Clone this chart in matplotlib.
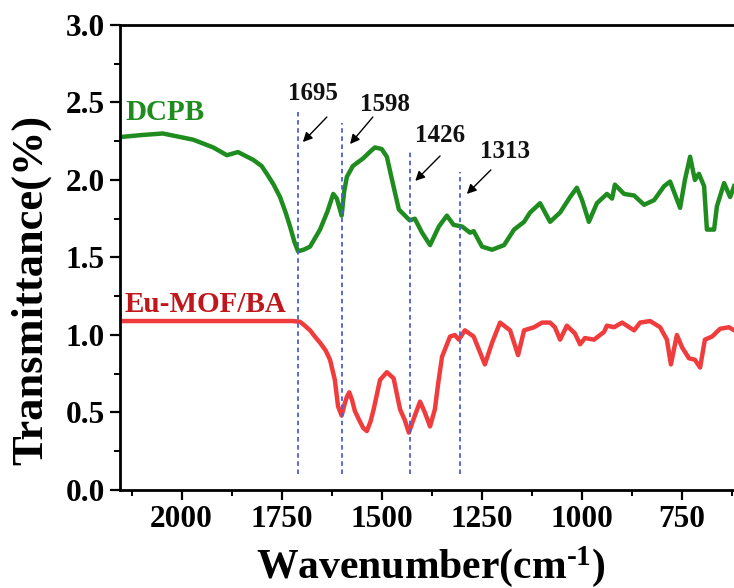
import numpy as np
import matplotlib
matplotlib.use("Agg")
import matplotlib.pyplot as plt
from matplotlib.ticker import MultipleLocator, FormatStrFormatter

# FTIR spectra
wn_dcpb = [2154, 2100, 2047, 1971, 1921, 1887, 1859, 1821, 1800, 1787, 1770, 1754,
           1740, 1729, 1718, 1709, 1695, 1679, 1654, 1635, 1621, 1612, 1600, 1594,
           1587, 1572, 1546, 1530, 1517, 1500, 1487, 1474, 1457, 1430, 1417, 1399,
           1379, 1357, 1337, 1320, 1299, 1279, 1270, 1249, 1224, 1194, 1169, 1144,
           1129, 1104, 1079, 1054, 1029, 1012, 999, 982, 962, 937, 924, 917, 894, 869,
           844, 819, 794, 779, 754, 742, 729, 717, 707, 694, 687, 669, 662, 644, 629,
           619]
t_dcpb = [2.277, 2.29, 2.30, 2.26, 2.21, 2.16, 2.18, 2.13, 2.09, 2.04, 1.97, 1.89,
          1.79, 1.70, 1.60, 1.54, 1.55, 1.57, 1.68, 1.80, 1.91, 1.88, 1.77, 1.92,
          2.02, 2.09, 2.14, 2.18, 2.21, 2.20, 2.15, 2.00, 1.81, 1.74, 1.75, 1.66,
          1.58, 1.70, 1.77, 1.71, 1.70, 1.66, 1.67, 1.57, 1.55, 1.58, 1.68, 1.73,
          1.79, 1.85, 1.73, 1.79, 1.89, 1.95, 1.87, 1.73, 1.85, 1.91, 1.88, 1.97, 1.91,
          1.90, 1.84, 1.87, 1.96, 1.99, 1.82, 2.00, 2.15, 2.00, 2.04, 1.96, 1.68, 1.68,
          1.83, 1.98, 1.89, 1.96]

wn_eu = [2154, 2000, 1850, 1722, 1704, 1692, 1679, 1667, 1654, 1640, 1629, 1617,
         1609, 1600, 1592, 1587, 1581, 1574, 1567, 1556, 1546, 1537, 1528, 1520,
         1504, 1487, 1470, 1454, 1442, 1432, 1417, 1404, 1392, 1379, 1367, 1358,
         1349, 1329, 1317, 1307, 1292, 1270, 1242, 1224, 1204, 1179, 1159, 1144,
         1119, 1099, 1079, 1067, 1054, 1037, 1017, 1004, 992, 969, 944, 937, 919,
         899, 869, 854, 829, 804, 787, 777, 762, 749, 732, 717, 704, 692, 674, 654,
         632, 619]
t_eu = [1.09, 1.09, 1.09, 1.09, 1.085, 1.06, 1.03, 0.99, 0.95, 0.90, 0.84, 0.71,
        0.54, 0.48, 0.56, 0.60, 0.63, 0.58, 0.51, 0.45, 0.40, 0.38, 0.44, 0.52,
        0.71, 0.76, 0.72, 0.52, 0.45, 0.37, 0.48, 0.57, 0.50, 0.41, 0.52, 0.70,
        0.86, 0.99, 1.00, 0.97, 1.03, 0.99, 0.81, 0.95, 1.08, 1.03, 0.87, 1.03,
        1.05, 1.08, 1.08, 1.05, 0.97, 1.06, 1.01, 0.94, 0.98, 0.97, 1.02, 1.06, 1.05,
        1.08, 1.03, 1.08, 1.09, 1.05, 0.97, 0.81, 1.00, 0.92, 0.85, 0.84, 0.79, 0.97,
        0.99, 1.04, 1.05, 1.03]

# marked bands: label, line position, line top, label pos, arrow tail, arrow head
peak_labels = ["1695", "1598", "1426", "1313"]
peak_lines = [1708, 1600, 1430, 1305]
line_tops = [2.45, 2.37, 2.18, 2.05]
label_xy = [(1673, 2.516), (1492, 2.445), (1354, 2.245), (1192, 2.142)]
arrow_tail = [(1637, 2.406), (1522, 2.406), (1354, 2.155), (1227, 2.065)]
arrow_head = [(1697, 2.245), (1579, 2.232), (1416, 1.994), (1287, 1.910)]

plt.rcParams['font.family'] = ['Liberation Serif', 'DejaVu Serif']
plt.rcParams['font.weight'] = 'bold'
plt.rcParams['mathtext.fontset'] = 'custom'
plt.rcParams['mathtext.rm'] = 'Liberation Serif:bold'
plt.rcParams['mathtext.bf'] = 'Liberation Serif:bold'
plt.rcParams['mathtext.it'] = 'Liberation Serif:bold'
plt.rcParams['mathtext.default'] = 'bf'

fig = plt.figure(figsize=(7.34, 5.88), dpi=100)
ax = fig.add_axes([0.1635, 0.1667, 0.847, 0.7908])

ax.plot(wn_dcpb, t_dcpb, color='#1e8c1e', lw=3.2, solid_joinstyle='round')
ax.plot(wn_eu, t_eu, color='#f03c3c', lw=3.2, solid_joinstyle='round')

for x, top in zip(peak_lines, line_tops):
    ax.plot([x, x], [0.10, top], color='#4a5fd6', lw=1.3, ls=(0, (2.5, 2)))

for lab, xy, tail, head in zip(peak_labels, label_xy, arrow_tail, arrow_head):
    ax.text(xy[0], xy[1], lab, ha='center', va='baseline', fontsize=18,
            fontweight='bold', color='#111111')
    ax.annotate('', xy=head, xytext=tail,
                arrowprops=dict(arrowstyle='-|>', color='black', lw=1.0,
                                mutation_scale=14, shrinkA=0, shrinkB=0))

ax.text(2140, 2.387, 'DCPB', color='#1e8c1e', fontsize=21, fontweight='bold',
        ha='left', va='baseline')
ax.text(2142, 1.148, 'Eu-MOF/BA', color='#c0161c', fontsize=21, fontweight='bold',
        ha='left', va='baseline')

ax.set_xlim(2154, 600)
ax.set_ylim(0, 3.0)
ax.xaxis.set_major_locator(MultipleLocator(250))
ax.xaxis.set_minor_locator(MultipleLocator(125))
ax.yaxis.set_major_locator(MultipleLocator(0.5))
ax.yaxis.set_minor_locator(MultipleLocator(0.25))
ax.yaxis.set_major_formatter(FormatStrFormatter('%.1f'))

ax.tick_params(which='major', direction='out', length=7, width=1.6, labelsize=22.5, pad=4)
ax.tick_params(which='minor', direction='out', length=4, width=1.4)
for lab in ax.get_xticklabels() + ax.get_yticklabels():
    lab.set_fontweight('bold')
for s in ax.spines.values():
    s.set_linewidth(2)

ax.set_xlabel('Wavenumber(cm$^{\u2010' + '1}$)', fontsize=30, fontweight='bold', labelpad=7)
ax.set_ylabel('Transmittance(%)', fontsize=32, fontweight='bold')
ax.yaxis.set_label_coords(-0.11, 0.43)

fig.savefig('out.png', dpi=100)
